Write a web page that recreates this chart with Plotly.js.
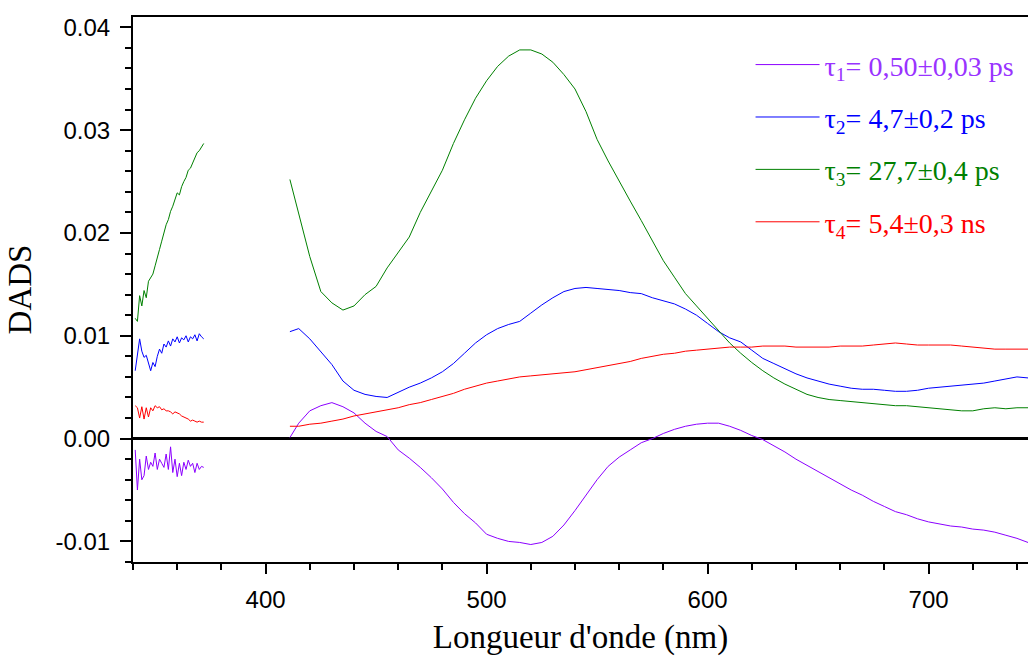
<!DOCTYPE html>
<html><head><meta charset="utf-8">
<script src="https://cdn.plot.ly/plotly-3.0.1.min.js"></script>
<style>html,body{margin:0;padding:0;background:#fff}#chart{width:1028px;height:656px}</style>
</head><body><div id="chart"></div>
<script>
// Wavelengths (nm)
const wavelengthsUV = [341,342,343,344,345,346,347,348,349,350,351,352,353,354,355,356,357,358,359,360,361,362,363,364,365,366,367,368,369,370,371,372];
const wavelengthsVis = [411,415,420,425,430,435,440,445,450,455,460,465,470,475,480,485,490,495,500,505,510,515,520,525,530,535,540,545,550,555,560,565,570,575,580,585,590,595,600,605,610,615,620,625,630,635,640,645,650,655,660,665,670,675,680,685,690,695,700,705,710,715,720,725,730,735,740,745];

// tau1 (purple)
const tau1UV = [-0.0011,-0.0050,-0.0020,-0.0040,-0.0036,-0.0017,-0.0030,-0.0023,-0.0027,-0.0014,-0.0030,-0.0020,-0.0024,-0.0028,-0.0015,-0.0030,-0.0008,-0.0033,-0.0020,-0.0037,-0.0024,-0.0036,-0.0023,-0.0030,-0.0021,-0.0027,-0.0024,-0.0033,-0.0024,-0.0030,-0.0027,-0.0028];
const tau1Vis = [0.0001,0.0015,0.0027,0.0032,0.0035,0.0031,0.0025,0.0015,0.0007,0.0002,-0.0011,-0.0019,-0.0028,-0.0038,-0.0049,-0.0062,-0.0073,-0.0082,-0.0093,-0.0097,-0.0100,-0.0101,-0.0103,-0.0101,-0.0095,-0.0084,-0.0070,-0.0055,-0.0040,-0.0027,-0.0018,-0.0011,-0.0004,0.0000,0.0005,0.0009,0.0012,0.0014,0.0015,0.0015,0.0012,0.0008,0.0003,-0.0001,-0.0007,-0.0013,-0.0020,-0.0026,-0.0032,-0.0038,-0.0044,-0.0050,-0.0055,-0.0061,-0.0066,-0.0071,-0.0074,-0.0078,-0.0081,-0.0083,-0.0085,-0.0086,-0.0088,-0.0089,-0.0091,-0.0094,-0.0097,-0.0101];

// tau2 (blue)
const tau2UV = [0.0066,0.0080,0.0097,0.0085,0.0079,0.0081,0.0072,0.0066,0.0074,0.0070,0.0080,0.0087,0.0083,0.0092,0.0089,0.0095,0.0090,0.0097,0.0094,0.0099,0.0093,0.0098,0.0096,0.0100,0.0094,0.0099,0.0097,0.0101,0.0095,0.0102,0.0099,0.0097];
const tau2Vis = [0.0104,0.0107,0.0097,0.0085,0.0072,0.0056,0.0047,0.0043,0.0041,0.0040,0.0045,0.0050,0.0054,0.0059,0.0065,0.0073,0.0083,0.0093,0.0101,0.0107,0.0111,0.0114,0.0122,0.0130,0.0137,0.0143,0.0146,0.0147,0.0146,0.0145,0.0144,0.0142,0.0141,0.0137,0.0134,0.0131,0.0126,0.0120,0.0112,0.0104,0.0098,0.0094,0.0086,0.0078,0.0073,0.0068,0.0063,0.0059,0.0056,0.0053,0.0051,0.0049,0.0048,0.0048,0.0047,0.0046,0.0046,0.0047,0.0049,0.0050,0.0051,0.0052,0.0053,0.0054,0.0056,0.0058,0.0060,0.0059];

// tau3 (green)
const tau3UV = [0.0117,0.0114,0.0139,0.0129,0.0144,0.0137,0.0153,0.0156,0.0160,0.0168,0.0175,0.0184,0.0192,0.0200,0.0208,0.0213,0.0221,0.0226,0.0232,0.0239,0.0237,0.0245,0.0250,0.0254,0.0261,0.0263,0.0268,0.0273,0.0278,0.0280,0.0284,0.0287];
const tau3Vis = [0.0252,0.0218,0.0177,0.0143,0.0132,0.0125,0.0129,0.0140,0.0148,0.0166,0.0181,0.0196,0.0220,0.0240,0.0261,0.0287,0.0310,0.0331,0.0348,0.0362,0.0372,0.0378,0.0378,0.0374,0.0366,0.0354,0.0340,0.0318,0.0291,0.0270,0.0250,0.0231,0.0212,0.0193,0.0173,0.0157,0.0141,0.0129,0.0117,0.0105,0.0093,0.0083,0.0074,0.0066,0.0059,0.0053,0.0048,0.0043,0.0040,0.0038,0.0037,0.0036,0.0035,0.0034,0.0033,0.0032,0.0032,0.0031,0.0030,0.0029,0.0028,0.0027,0.0027,0.0029,0.0030,0.0029,0.0030,0.0030];

// tau4 (red)
const tau4UV = [0.0032,0.0030,0.0020,0.0031,0.0019,0.0030,0.0021,0.0030,0.0027,0.0032,0.0030,0.0031,0.0028,0.0029,0.0027,0.0027,0.0026,0.0024,0.0026,0.0025,0.0024,0.0022,0.0021,0.0020,0.0019,0.0017,0.0018,0.0017,0.0016,0.0017,0.0016,0.0016];
const tau4Vis = [0.0012,0.0012,0.0014,0.0015,0.0017,0.0019,0.0022,0.0024,0.0026,0.0028,0.0030,0.0033,0.0035,0.0038,0.0041,0.0044,0.0048,0.0051,0.0054,0.0056,0.0058,0.0060,0.0061,0.0062,0.0063,0.0064,0.0065,0.0067,0.0069,0.0071,0.0073,0.0075,0.0078,0.0080,0.0082,0.0083,0.0085,0.0086,0.0087,0.0088,0.0089,0.0089,0.0089,0.0090,0.0090,0.0090,0.0089,0.0089,0.0089,0.0089,0.0090,0.0090,0.0090,0.0091,0.0092,0.0093,0.0092,0.0091,0.0091,0.0091,0.0091,0.0090,0.0089,0.0088,0.0087,0.0087,0.0087,0.0087];

const seriesLabels = ['τ<sub>1</sub>= 0,50±0,03 ps','τ<sub>2</sub>= 4,7±0,2 ps','τ<sub>3</sub>= 27,7±0,4 ps','τ<sub>4</sub>= 5,4±0,3 ns'];
const seriesColors = ['#8B00FF','#0000FF','#008000','#FF0000'];
const labelColors = ['#9933FF','#0000FF','#008000','#FF0000'];
const uvValues = [tau1UV, tau2UV, tau3UV, tau4UV];
const visValues = [tau1Vis, tau2Vis, tau3Vis, tau4Vis];

const xTickVals = [400,500,600,700];
const xTickText = ['400','500','600','700'];
const yTickVals = [-0.01,0,0.01,0.02,0.03,0.04];
const yTickText = ['-0.01','0.00','0.01','0.02','0.03','0.04'];

const xAll = wavelengthsUV.concat([null], wavelengthsVis);
const traces = uvValues.map((uv, i) => ({
  type: 'scatter', mode: 'lines',
  x: xAll,
  y: uv.concat([null], visValues[i]),
  connectgaps: false,
  line: {color: seriesColors[i], width: 1},
  name: '<span style="color:' + labelColors[i] + '">' + seriesLabels[i] + '</span>',
  legendgroup: 'g' + i
}));

const tickFont = {family: 'Liberation Sans, Arial, sans-serif', size: 24, color: '#000'};
const layout = {
  width: 1028, height: 656,
  margin: {l: 133, r: 0, t: 17, b: 94, pad: 0},
  paper_bgcolor: '#fff', plot_bgcolor: '#fff',
  showlegend: true,
  legend: {
    x: 0.69, y: 0.958, xanchor: 'left', yanchor: 'top',
    bgcolor: 'rgba(0,0,0,0)', borderwidth: 0,
    font: {family: 'Liberation Serif, Times New Roman, serif', size: 28},
    traceorder: 'grouped', tracegroupgap: 13, itemwidth: 64
  },
  xaxis: {
    range: [340, 745], showgrid: false, zeroline: false,
    showline: true, linecolor: '#000', linewidth: 2, mirror: true,
    tickmode: 'array', tickvals: xTickVals, ticktext: xTickText,
    ticks: 'outside', ticklen: 10, tickwidth: 2, tickcolor: '#000',
    ticklabelstandoff: 5,
    minor: {tickmode: 'linear', tick0: 0, dtick: 20, ticks: 'outside', ticklen: 6, tickwidth: 2, tickcolor: '#000', showgrid: false},
    tickfont: tickFont,
    title: {text: "Longueur d'onde (nm)", font: {family: 'Liberation Serif, Times New Roman, serif', size: 33, color: '#000'}, standoff: 16}
  },
  yaxis: {
    range: [-0.012, 0.041], showgrid: false,
    zeroline: true, zerolinecolor: '#000', zerolinewidth: 2.5,
    showline: true, linecolor: '#000', linewidth: 2, mirror: false,
    tickmode: 'array', tickvals: yTickVals, ticktext: yTickText,
    ticks: 'outside', ticklen: 11, tickwidth: 2, tickcolor: '#000',
    ticklabelstandoff: 5,
    minor: {tickmode: 'linear', tick0: 0, dtick: 0.002, ticks: 'outside', ticklen: 6, tickwidth: 2, tickcolor: '#000', showgrid: false},
    tickfont: tickFont,
    title: {text: 'DADS', font: {family: 'Liberation Serif, Times New Roman, serif', size: 33, color: '#000'}, standoff: 14}
  }
};
Plotly.newPlot('chart', traces, layout, {displayModeBar: false, staticPlot: true});
</script>
</body></html>
